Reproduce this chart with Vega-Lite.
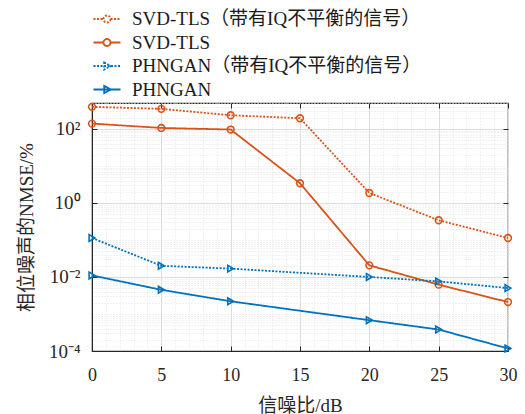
{
  "$schema": "https://vega.github.io/schema/vega-lite/v6.json",
  "width": 416,
  "height": 248,
  "autosize": "none",
  "padding": {"left": 92, "top": 103, "right": 17, "bottom": 63},
  "background": "white",
  "config": {
    "view": {"stroke": "#262626", "strokeWidth": 1.2},
    "font": "Liberation Serif"
  },
  "data": {
    "values": [
      {"series": "SVD-TLS（带有IQ不平衡的信号）", "snr": 0, "nmse": 394},
      {"series": "SVD-TLS（带有IQ不平衡的信号）", "snr": 5, "nmse": 347},
      {"series": "SVD-TLS（带有IQ不平衡的信号）", "snr": 10, "nmse": 233},
      {"series": "SVD-TLS（带有IQ不平衡的信号）", "snr": 15, "nmse": 194},
      {"series": "SVD-TLS（带有IQ不平衡的信号）", "snr": 20, "nmse": 1.86},
      {"series": "SVD-TLS（带有IQ不平衡的信号）", "snr": 25, "nmse": 0.34},
      {"series": "SVD-TLS（带有IQ不平衡的信号）", "snr": 30, "nmse": 0.113},
      {"series": "SVD-TLS", "snr": 0, "nmse": 139},
      {"series": "SVD-TLS", "snr": 5, "nmse": 106},
      {"series": "SVD-TLS", "snr": 10, "nmse": 96},
      {"series": "SVD-TLS", "snr": 15, "nmse": 3.4},
      {"series": "SVD-TLS", "snr": 20, "nmse": 0.0206},
      {"series": "SVD-TLS", "snr": 25, "nmse": 0.0062},
      {"series": "SVD-TLS", "snr": 30, "nmse": 0.0021},
      {"series": "PHNGAN（带有IQ不平衡的信号）", "snr": 0, "nmse": 0.113},
      {"series": "PHNGAN（带有IQ不平衡的信号）", "snr": 5, "nmse": 0.02},
      {"series": "PHNGAN（带有IQ不平衡的信号）", "snr": 10, "nmse": 0.0168},
      {"series": "PHNGAN（带有IQ不平衡的信号）", "snr": 20, "nmse": 0.01},
      {"series": "PHNGAN（带有IQ不平衡的信号）", "snr": 25, "nmse": 0.0076},
      {"series": "PHNGAN（带有IQ不平衡的信号）", "snr": 30, "nmse": 0.005},
      {"series": "PHNGAN", "snr": 0, "nmse": 0.011},
      {"series": "PHNGAN", "snr": 5, "nmse": 0.0045},
      {"series": "PHNGAN", "snr": 10, "nmse": 0.0022},
      {"series": "PHNGAN", "snr": 20, "nmse": 0.00068},
      {"series": "PHNGAN", "snr": 25, "nmse": 0.00038},
      {"series": "PHNGAN", "snr": 30, "nmse": 0.000117}
    ]
  },
  "layer": [
    {
      "mark": {"type": "line", "strokeWidth": 1.8},
      "encoding": {
        "x": {
          "field": "snr", "type": "quantitative",
          "scale": {"domain": [0, 30], "nice": false, "zero": false},
          "axis": {
            "orient": "bottom",
            "values": [0,1,2,3,4,5,6,7,8,9,10,11,12,13,14,15,16,17,18,19,20,21,22,23,24,25,26,27,28,29,30],
            "labelExpr": "datum.value % 5 === 0 ? datum.label : ''",
            "labelOverlap": false,
            "labelFlush": false,
            "labelFont": "Liberation Serif",
            "labelFontSize": 18,
            "labelColor": "#262626",
            "labelPadding": 20,
            "tickSize": -5,
            "tickColor": "#262626",
            "tickOpacity": {"condition": {"test": "datum.value % 5 === 0", "value": 1}, "value": 0},
            "grid": true,
            "gridColor": {"condition": {"test": "datum.value % 5 === 0", "value": "#dcdcdc"}, "value": "#e2e2e2"},
            "gridDash": {"condition": {"test": "datum.value % 5 === 0", "value": []}, "value": [1, 2]},
            "gridWidth": 1,
            "domainColor": "#262626",
            "title": "信噪比/dB",
            "titleFont": "Liberation Serif, Noto Sans CJK SC",
            "titleFontSize": 19,
            "titleFontWeight": "normal",
            "titleColor": "#262626",
            "titlePadding": 12
          }
        },
        "y": {
          "field": "nmse", "type": "quantitative",
          "scale": {"type": "log", "domain": [0.0001, 500], "nice": false},
          "axis": {
            "orient": "left",
            "values": [0.0001,0.0002,0.0003,0.0004,0.0005,0.0006,0.0007,0.0008,0.0009,0.001,0.002,0.003,0.004,0.005,0.006,0.007,0.008,0.009,0.01,0.02,0.03,0.04,0.05,0.06,0.07,0.08,0.09,0.1,0.2,0.3,0.4,0.5,0.6,0.7,0.8,0.9,1,2,3,4,5,6,7,8,9,10,20,30,40,50,60,70,80,90,100,200,300,400,500],
            "labelExpr": "abs(datum.value - 0.0001) < 0.00001 ? '10⁻⁴' : abs(datum.value - 0.01) < 0.0001 ? '10⁻²' : abs(datum.value - 1) < 0.001 ? '10⁰' : abs(datum.value - 100) < 0.1 ? '10²' : ''",
            "labelOverlap": false,
            "labelFlush": false,
            "labelFont": "Liberation Serif",
            "labelFontSize": 19,
            "labelColor": "#262626",
            "labelPadding": 17,
            "tickSize": -5,
            "tickColor": "#262626",
            "tickOpacity": {"condition": {"test": "abs(log(datum.value)/LN10/2 - round(log(datum.value)/LN10/2)) < 0.001", "value": 1}, "value": 0},
            "grid": true,
            "gridColor": {"condition": {"test": "abs(log(datum.value)/LN10/2 - round(log(datum.value)/LN10/2)) < 0.001", "value": "#dcdcdc"}, "value": "#e2e2e2"},
            "gridDash": {"condition": {"test": "abs(log(datum.value)/LN10/2 - round(log(datum.value)/LN10/2)) < 0.001", "value": []}, "value": [1, 2]},
            "gridWidth": 1,
            "domainColor": "#262626",
            "title": "相位噪声的NMSE/%",
            "titleFont": "Liberation Serif, Noto Sans CJK SC",
            "titleFontSize": 19,
            "titleFontWeight": "normal",
            "titleColor": "#262626",
            "titlePadding": 12
          }
        },
        "color": {
          "field": "series", "type": "nominal",
          "scale": {
            "domain": ["SVD-TLS（带有IQ不平衡的信号）", "SVD-TLS", "PHNGAN（带有IQ不平衡的信号）", "PHNGAN"],
            "range": ["#D95319", "#D95319", "#0072BD", "#0072BD"]
          },
          "legend": {
            "orient": "top",
            "direction": "vertical",
            "title": null,
            "offset": -2,
            "padding": 4,
            "labelFont": "Liberation Serif, Noto Sans CJK SC",
            "labelFontSize": 19,
            "labelColor": "#1a1a1a",
            "labelLimit": 600,
            "labelOffset": 14,
            "rowPadding": 2.5,
            "symbolSize": 400,
            "symbolStrokeWidth": 1.8,
            "encode": {
              "symbols": {
                "update": {
                  "shape": {"signal": "indexof(datum.value, 'SVD') >= 0 ? 'M-1.35,0H-0.35M0.35,0H1.35M0.35,0A0.35,0.35 0 1,1 -0.35,0A0.35,0.35 0 1,1 0.35,0' : 'M-1.35,0H1.35M-0.28,-0.36L0.4,0L-0.28,0.36Z'"},
                  "strokeDash": {"signal": "indexof(datum.value, '（') >= 0 ? [2, 1.5] : [1, 0]"}
                }
              }
            }
          }
        },
        "strokeDash": {
          "field": "series", "type": "nominal",
          "scale": {
            "domain": ["SVD-TLS（带有IQ不平衡的信号）", "SVD-TLS", "PHNGAN（带有IQ不平衡的信号）", "PHNGAN"],
            "range": [[2, 1.5], [1, 0], [2, 1.5], [1, 0]]
          },
          "legend": null
        }
      }
    },
    {
      "mark": {"type": "point", "filled": false, "size": 45, "strokeWidth": 1.6, "opacity": 1},
      "encoding": {
        "x": {
          "field": "snr", "type": "quantitative",
          "axis": {"orient": "top", "values": [0,5,10,15,20,25,30], "labels": false, "tickSize": -5, "tickColor": "#262626", "grid": false, "domain": false, "title": null}
        },
        "y": {
          "field": "nmse", "type": "quantitative",
          "axis": {"orient": "right", "values": [0.0001, 0.01, 1, 100], "labels": false, "tickSize": -5, "tickColor": "#262626", "grid": false, "domain": false, "title": null}
        },
        "color": {"field": "series", "type": "nominal", "legend": null},
        "shape": {
          "field": "series", "type": "nominal",
          "scale": {
            "domain": ["SVD-TLS（带有IQ不平衡的信号）", "SVD-TLS", "PHNGAN（带有IQ不平衡的信号）", "PHNGAN"],
            "range": ["circle", "circle", "triangle-right", "triangle-right"]
          },
          "legend": null
        }
      }
    }
  ],
  "resolve": {"axis": {"x": "independent", "y": "independent"}, "legend": {"color": "independent", "shape": "independent", "strokeDash": "independent"}}
}
